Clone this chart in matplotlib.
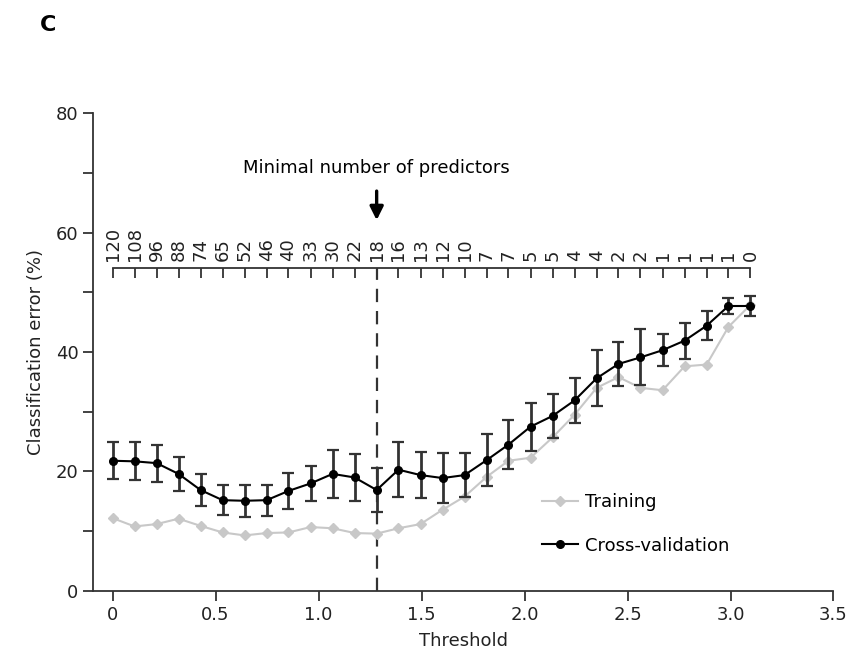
import numpy as np
import matplotlib
matplotlib.use("Agg")
from matplotlib import pyplot as plt
from matplotlib.lines import Line2D

plt.rcParams['font.family'] = ['DejaVu Sans']
plt.rcParams['font.size'] = 13

# threshold values (x positions of the points)
thresholds = [0.000, 0.107, 0.214, 0.320, 0.427, 0.534, 0.641, 0.748, 0.854, 0.961,
              1.068, 1.175, 1.282, 1.388, 1.495, 1.602, 1.709, 1.816, 1.922, 2.029,
              2.136, 2.243, 2.350, 2.456, 2.563, 2.670, 2.777, 2.884, 2.990, 3.097]

# number of predictors at each threshold (top axis)
n_predictors = ['120', '108', '96', '88', '74', '65', '52', '46', '40', '33',
                '30', '22', '18', '16', '13', '12', '10', '7', '7', '5',
                '5', '4', '4', '2', '2', '1', '1', '1', '1', '0']

training = [12.2, 10.8, 11.2, 12.1, 10.9, 9.8, 9.3, 9.7, 9.8, 10.7,
            10.5, 9.7, 9.6, 10.5, 11.2, 13.6, 15.8, 19.1, 21.8, 22.3,
            25.7, 29.5, 34.0, 35.8, 34.0, 33.6, 37.6, 37.9, 44.2, 47.9]

cross_val = [21.8, 21.7, 21.4, 19.6, 16.9, 15.2, 15.1, 15.2, 16.75, 18.0,
             19.6, 19.0, 16.9, 20.3, 19.4, 18.9, 19.4, 21.9, 24.5, 27.5,
             29.3, 31.9, 35.6, 38.0, 39.1, 40.3, 41.9, 44.4, 47.7, 47.7]

cross_val_err = [3.1, 3.2, 3.1, 2.8, 2.6, 2.5, 2.7, 2.6, 3.0, 2.9,
                 4.0, 3.9, 3.7, 4.6, 3.9, 4.2, 3.7, 4.4, 4.1, 4.0,
                 3.7, 3.8, 4.7, 3.7, 4.7, 2.7, 3.0, 2.4, 1.4, 1.6]

best_idx = 12          # minimal number of predictors (18)
top_axis_level = 54.1  # height of the predictor-count axis

fig = plt.figure(figsize=(8.59, 6.59), dpi=100)
ax = fig.add_axes([0.1083, 0.1032, 0.862, 0.7253])

xmin, xmax = -0.095, 3.5
ax.set_xlim(xmin, xmax)
ax.set_ylim(0, 80)

# training curve
ax.plot(thresholds, training, color='#c8c8c8', lw=1.5, marker='D', ms=5, zorder=2)

# cross-validation curve with error bars
ax.errorbar(thresholds, cross_val, yerr=cross_val_err, color='black', lw=1.5,
            marker='o', ms=5.5, ecolor='#333333', elinewidth=2, capsize=4,
            capthick=1.6, zorder=3)

# dashed line at the chosen threshold
ax.plot([thresholds[best_idx]] * 2, [0, top_axis_level], color='#333333',
        lw=1.6, ls=(0, (6, 4)), zorder=1)

ax.text(thresholds[best_idx], 70.8, 'Minimal number of predictors',
        ha='center', va='center', fontsize=13)
ax.annotate('', xy=(thresholds[best_idx], 61.6), xytext=(thresholds[best_idx], 67.4),
            arrowprops=dict(arrowstyle='-|>', color='black', lw=2.4,
                            mutation_scale=20))

# axes styling
for side in ['top', 'right']:
    ax.spines[side].set_visible(False)
ax.spines['left'].set_linewidth(1.3)
ax.spines['bottom'].set_linewidth(1.3)
ax.spines['left'].set_color('#333333')
ax.spines['bottom'].set_color('#333333')

ax.set_yticks(np.arange(0, 81, 10))
ax.set_yticklabels(['0', '', '20', '', '40', '', '60', '', '80'])
ax.set_xticks([0, 0.5, 1.0, 1.5, 2.0, 2.5, 3.0, 3.5])
ax.set_xticklabels(['0', '0.5', '1.0', '1.5', '2.0', '2.5', '3.0', '3.5'])
ax.tick_params(direction='out', length=7, width=1.3, color='#333333',
               labelcolor='#222222', labelsize=13)
ax.set_xlabel('Threshold', fontsize=13, color='#222222', labelpad=6)
ax.set_ylabel('Classification error (%)', fontsize=13, color='#222222', labelpad=8)

# top axis with the number of predictors
ax2 = ax.inset_axes([xmin, 0, xmax - xmin, top_axis_level], transform=ax.transData)
ax2.set_xlim(xmin, xmax)
ax2.patch.set_visible(False)
for side in ['left', 'right', 'bottom']:
    ax2.spines[side].set_visible(False)
ax2.spines['top'].set_bounds(thresholds[0], thresholds[-1])
ax2.spines['top'].set_linewidth(1.3)
ax2.spines['top'].set_color('#333333')
ax2.set_yticks([])
ax2.xaxis.tick_top()
ax2.set_xticks(thresholds)
ax2.set_xticklabels(n_predictors, rotation=90)
ax2.tick_params(axis='x', direction='in', length=7, width=1.3, color='#333333',
                labelcolor='#222222', labelsize=13, pad=5)

handles = [Line2D([], [], color='#c8c8c8', lw=1.5, marker='D', ms=5),
           Line2D([], [], color='black', lw=1.5, marker='o', ms=5.5)]
ax.legend(handles, ['Training', 'Cross-validation'], loc='upper left',
          bbox_to_anchor=(0.584, 0.238), frameon=False,
          handlelength=2.0, handletextpad=0.4, labelspacing=1.4, fontsize=13)

fig.text(0.047, 0.962, 'C', fontsize=16, fontweight='bold', va='center', ha='left')

fig.savefig('out.png', dpi=100)
